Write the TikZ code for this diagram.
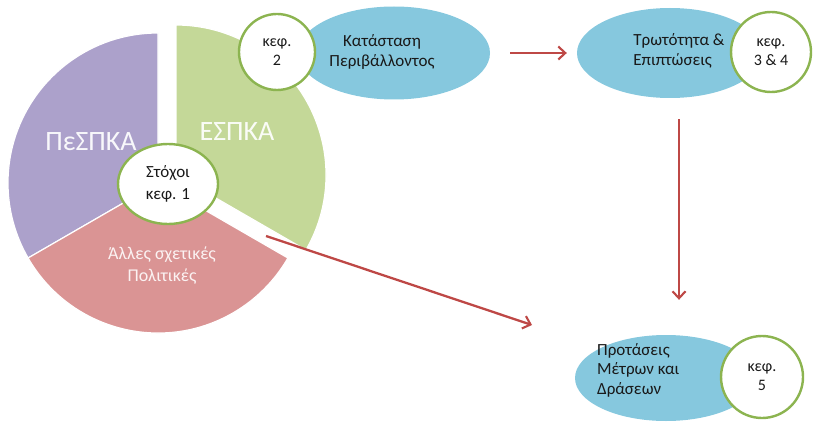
\documentclass[tikz,border=0pt]{standalone}
\usepackage{fontspec}
\setmainfont{Carlito}
\usetikzlibrary{shapes.geometric,arrows.meta,calc}
\definecolor{pieP}{RGB}{172,161,203}
\definecolor{pieG}{RGB}{196,216,152}
\definecolor{pieR}{RGB}{218,148,148}
\definecolor{ellB}{RGB}{134,200,222}
\definecolor{ringG}{RGB}{140,180,80}
\definecolor{arrR}{RGB}{190,72,70}
\definecolor{txtD}{RGB}{25,25,25}
\tikzset{
  sector/.style={draw=white,line width=1.2pt},
  bigtxt/.style={font=\fontsize{28}{32}\selectfont,inner sep=0pt},
  bubble/.style={ellipse,fill=ellB,draw=none,inner sep=0pt},
  ring/.style={circle,fill=white,draw=ringG,line width=2.4pt,inner sep=0pt,
    align=center,text=txtD,font=\fontsize{16}{19}\selectfont},
  etxt/.style={align=center,text=txtD,font=\fontsize{17}{20.5}\selectfont,inner sep=0pt},
  arr/.style={draw=arrR,line width=2.3pt,-{Straight Barb[length=7pt,width=13pt,line width=2.1pt]}},
}
\begin{document}
\begin{tikzpicture}[x=1pt,y=1pt]
\useasboundingbox (0,0) rectangle (818,421);
\coordinate (C) at (158,238);
\coordinate (CG) at (176,246);
% pie sectors
\fill[pieP,sector] (C) -- ++(90:150) arc[start angle=90,end angle=210,radius=150] -- cycle;
\fill[pieR,sector] (C) -- ++(210:150) arc[start angle=210,end angle=330,radius=150] -- cycle;
\fill[pieG,sector] (CG) -- ++(-30:150) arc[start angle=-30,end angle=90,radius=150] -- cycle;
\node[bigtxt,text=white!92!pieP] (pespka) at (91,279) {ΠεΣΠΚΑ};
\node[bigtxt,text=white!92!pieG] (espka) at (237,289) {ΕΣΠΚΑ};
\node[align=center,text=white!88!pieR,font=\fontsize{18}{22}\selectfont,inner sep=0pt] (alles) at (162,155) {Άλλες σχετικές\\Πολιτικές};
\node[ring,ellipse,minimum width=100pt,minimum height=80pt,font=\fontsize{17}{22}\selectfont] (stoxoi) at (168,237) {Στόχοι\\κεφ. 1};
% bubbles
\node[bubble,minimum width=192pt,minimum height=93pt] (kat) at (394,368) {};
\node[etxt] (katT) at (382,369) {Κατάσταση\\Περιβάλλοντος};
\node[ring,minimum size=76pt] (k2) at (277,369) {κεφ.\\2};
\node[bubble,minimum width=186pt,minimum height=90pt] (trot) at (670,368) {};
\node[etxt,align=left] (trotT) at (679,370) {Τρωτότητα \&\\Επιπτώσεις};
\node[ring,minimum size=80pt] (k34) at (771,369) {κεφ.\\3 \& 4};
\node[bubble,minimum width=182pt,minimum height=86pt] (prot) at (666,43) {};
\node[etxt,align=left,anchor=west,font=\fontsize{17}{19.5}\selectfont] (protT) at (597,51) {Προτάσεις\\Μέτρων και\\Δράσεων};
\node[ring,minimum size=82pt] (k5) at (762,44) {κεφ.\\5};
% arrows
\draw[arr,shorten <=20pt,shorten >=10pt] (kat.east) -- (trot.west);
\draw[arr] ([xshift=9pt,yshift=-21pt]trot.south) -- ([xshift=13pt,yshift=35pt]prot.north);
\coordinate (a3s) at (266,185);
\coordinate (a3e) at (532,96);
\draw[arr] (a3s) -- (a3e);
\end{tikzpicture}
\end{document}
